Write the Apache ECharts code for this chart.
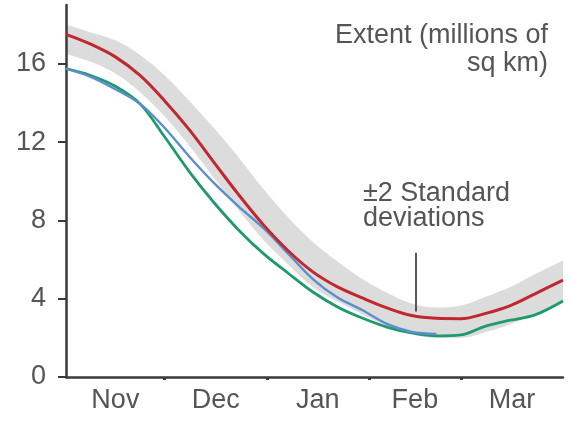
<!DOCTYPE html>
<html>
<head>
<meta charset="utf-8">
<script src="https://cdn.jsdelivr.net/npm/echarts@6/dist/echarts.min.js"></script>
<style>
  html, body { margin: 0; padding: 0; background: #fff; }
  #chart { width: 573px; height: 422px; }
</style>
</head>
<body>
<div id="chart"></div>
<script>
// Days since 1 November
const days = [0, 7.5, 15, 22.5, 30, 37.5, 45, 52.5, 60, 67.5, 75, 82.5, 90, 97.5, 105, 112.5, 120, 127.5, 135, 142.5, 151];

// Sea-ice extent, millions of sq km
const meanExtent  = [17.5, 17.0, 16.35, 15.4, 14.1, 12.62, 10.95, 9.3, 7.77, 6.45, 5.37, 4.6, 4.04, 3.53, 3.14, 3.0, 2.98, 3.25, 3.65, 4.25, 4.95];
const bandLow     = [16.5, 16.1, 15.5, 14.55, 13.3, 11.8, 10.15, 8.5, 7.0, 5.75, 4.6, 3.85, 3.2, 2.6, 2.2, 2.0, 2.0, 2.3, 2.7, 3.2, 3.9];
const bandHigh    = [18.0, 17.6, 17.2, 16.45, 15.4, 14.1, 12.7, 11.2, 9.6, 8.15, 6.9, 5.9, 5.0, 4.3, 3.75, 3.55, 3.65, 4.1, 4.6, 5.25, 5.95];
const blueExtent  = [15.75, 15.33, 14.7, 13.95, 12.72, 11.25, 9.9, 8.7, 7.6, 6.3, 5.0, 4.06, 3.42, 2.71, 2.3, 2.2];
const greenExtent = [15.75, 15.4, 14.85, 13.95, 12.26, 10.48, 8.9, 7.5, 6.3, 5.3, 4.34, 3.58, 3.01, 2.55, 2.25, 2.1, 2.15, 2.6, 2.9, 3.17, 3.88];

const monthNames = ['Nov', 'Dec', 'Jan', 'Feb', 'Mar'];
const monthStarts = [0, 30, 61, 92, 120, 151];
const yTicks = [0, 4, 8, 12, 16];

const FONT = '"Liberation Sans", Arial, sans-serif';
const TEXT = '#555555';
const AXIS = '#3a3a3a';

const monthMids = monthNames.map((_, i) => (monthStarts[i] + monthStarts[i + 1]) / 2);
const pairs = arr => arr.map((v, i) => [days[i], v]);

const chart = echarts.init(document.getElementById('chart'), null, { renderer: 'canvas' });

const lineBase = { type: 'line', smooth: 0.35, symbol: 'none', silent: true };

chart.setOption({
  animation: false,
  backgroundColor: '#ffffff',
  grid: { left: 66, right: 10, top: 5, bottom: 45 },
  xAxis: {
    type: 'value', min: 0, max: 151, z: 5,
    splitLine: { show: false },
    axisLine: { lineStyle: { color: AXIS, width: 2.5 } },
    axisTick: { show: true, customValues: monthStarts.slice(1, 5), length: 3, lineStyle: { color: AXIS, width: 3 } },
    axisLabel: {
      customValues: monthMids,
      formatter: v => monthNames[monthMids.indexOf(v)],
      fontFamily: FONT, fontSize: 27, color: TEXT, margin: 10
    }
  },
  yAxis: {
    type: 'value', min: 0, max: 19, z: 5,
    splitLine: { show: false },
    axisLine: { show: true, lineStyle: { color: AXIS, width: 2.5 } },
    axisTick: { show: true, customValues: yTicks, length: 8, lineStyle: { color: AXIS, width: 2 } },
    axisLabel: { customValues: yTicks, fontFamily: FONT, fontSize: 27, color: TEXT, margin: 20 }
  },
  series: [
    // ±2 standard deviation band: grey down to the upper edge, white below the lower edge
    Object.assign({}, lineBase, {
      name: 'bandHigh', z: 1,
      data: pairs(bandHigh), lineStyle: { opacity: 0 },
      areaStyle: { color: '#dcdcdc', opacity: 1, origin: 'start' }
    }),
    Object.assign({}, lineBase, {
      name: 'bandLow', z: 2,
      data: pairs(bandLow), lineStyle: { opacity: 0 },
      areaStyle: { color: '#ffffff', opacity: 1, origin: 'start' }
    }),
    Object.assign({}, lineBase, {
      name: 'green', z: 6, data: pairs(greenExtent),
      lineStyle: { color: '#1f9a6c', width: 2.8 }
    }),
    Object.assign({}, lineBase, {
      name: 'blue', z: 7, data: pairs(blueExtent),
      lineStyle: { color: '#5b8ecb', width: 2.4 }
    }),
    Object.assign({}, lineBase, {
      name: 'mean', z: 8, data: pairs(meanExtent),
      lineStyle: { color: '#c0272f', width: 3 },
      markLine: {
        silent: true, symbol: 'none', animation: false,
        label: { show: false },
        lineStyle: { color: '#333333', width: 1.6, type: 'solid' },
        data: [[{ coord: [106.4, 6.35] }, { coord: [106.4, 3.35] }]]
      }
    })
  ],
  graphic: [
    {
      type: 'text', x: 548, y: 22, z: 20,
      style: {
        text: 'Extent (millions of\nsq km)', align: 'right', verticalAlign: 'top',
        fontFamily: FONT, fontSize: 27, lineHeight: 28, fill: TEXT
      }
    },
    {
      type: 'text', x: 363, y: 181, z: 20,
      style: {
        text: '±2 Standard\ndeviations', align: 'left', verticalAlign: 'top',
        fontFamily: FONT, fontSize: 27, lineHeight: 25, fill: TEXT
      }
    }
  ]
});
</script>
</body>
</html>
